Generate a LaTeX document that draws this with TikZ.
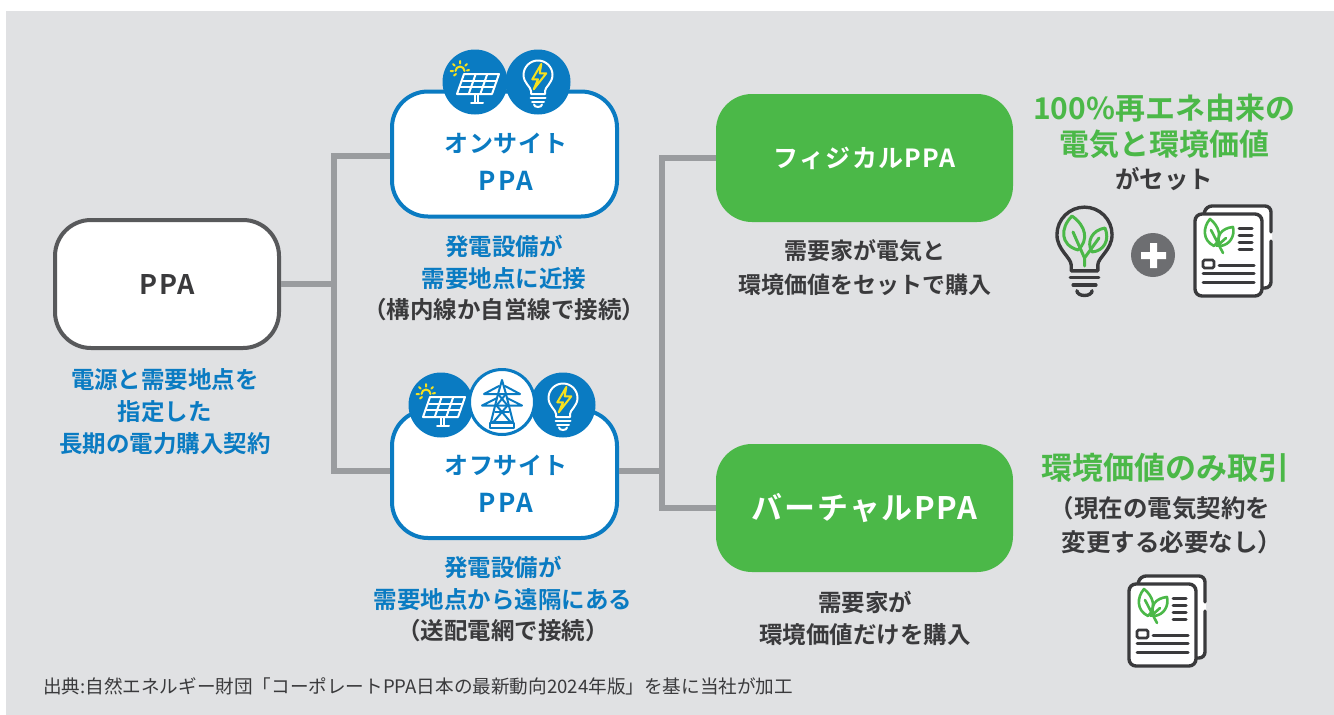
\documentclass[tikz,border=0pt]{standalone}
\usepackage{fontspec}
\setmainfont{Noto Sans CJK JP}[BoldFont={Noto Sans CJK JP Bold}]
\definecolor{bg}{HTML}{E0E1E3}
\definecolor{myblue}{HTML}{0A7BC2}
\definecolor{mygreen}{HTML}{4BB848}
\definecolor{dk}{HTML}{3A3A3C}
\definecolor{boxgray}{HTML}{58595B}
\definecolor{linegray}{HTML}{9A9C9F}
\definecolor{plusgray}{HTML}{6D6E71}
\definecolor{sunyellow}{HTML}{F7E11E}
\newcommand{\fs}[2]{\fontsize{#1}{#2}\selectfont}
\tikzset{
 box/.style={draw,line width=4pt,fill=white,rounded corners=36pt,minimum width=225pt,align=center,inner sep=0pt},
 greenbox/.style={fill=mygreen,rounded corners=36pt,minimum width=297pt,minimum height=128pt,text=white,font=\bfseries,inner sep=0pt},
 conn/.style={linegray,line width=6pt},
 lbl/.style={inner sep=0pt,align=center,text=dk,font=\bfseries\fs{23.5}{32}},
 bluelbl/.style={lbl,text=myblue},
 boxlbl/.style={inner sep=0pt,text=myblue,font=\bfseries\addfontfeature{LetterSpace=4}\fs{24}{30}},
 boxppa/.style={inner sep=0pt,text=myblue,font=\bfseries\addfontfeature{LetterSpace=9}\fs{26}{30}},
 greenlbl/.style={inner sep=0pt,align=center,text=mygreen,font=\bfseries\fs{30}{36}},
 iconline/.style={line width=2pt,line cap=round,line join=round},
}
\newcommand{\solaricon}[2]{%
 \begin{scope}[shift={(#1,#2)}]
  \fill[myblue] (0,0) circle (32.5);
  \draw[white,iconline] (-11,-8) -- (24,-8) -- (17,12) -- (-18,12) -- cycle;
  \draw[white,iconline] (-12.2,-1.3) -- (21.7,-1.3) (-14.5,5.3) -- (19.3,5.3);
  \draw[white,iconline] (0.7,-8) -- (-6.3,12) (12.3,-8) -- (5.3,12);
  \draw[white,iconline] (0,12) -- (0,20) (3.4,12) -- (3.4,20) (-4,20.5) -- (8,20.5);
  \draw[sunyellow,iconline] (-19.5,-11) arc (180:360:4.5);
  \draw[sunyellow,iconline] (-15,-21) -- (-15,-18.5) (-22,-18) -- (-20.3,-16.3) (-8,-18) -- (-9.7,-16.3)
    (-24.5,-11) -- (-22,-11) (-6,-12) -- (-8,-11.5) (-21,-6.5) -- (-19,-8);
 \end{scope}}
\newcommand{\bulbshape}[2]{%
  \draw[#1,line width=#2,line cap=round,line join=round] (-7,12) -- (-7,9) .. controls (-7,5) and (-14.5,1) .. (-14.5,-7)
     arc (180:360:14.5) .. controls (14.5,1) and (7,5) .. (7,9) -- (7,12) -- cycle;
  \draw[#1,line width=#2,line cap=round] (-7.5,15.5) -- (7.5,15.5) (-6,19.5) -- (6,19.5);
  \draw[#1,line width=#2,line cap=round] (-4,22.5) arc (180:0:4 and 2.5);}
\newcommand{\bulbicon}[2]{%
 \begin{scope}[shift={(#1,#2)}]
  \fill[myblue] (0,0) circle (32.5);
  \bulbshape{white}{2pt}
  \draw[sunyellow,line width=2pt,line join=round] (3.3,-18) -- (-5.7,-2.7) -- (0,-2.7) -- (-4.3,7.3) -- (8.3,-8.7) -- (1.7,-8.7) -- cycle;
 \end{scope}}
\newcommand{\towericon}[2]{%
 \begin{scope}[shift={(#1,#2)}]
  \fill[white] (0,0) circle (32.5);
  \draw[myblue,line width=3pt] (0,0) circle (32.5);
  \draw[myblue,iconline] (0,-22) -- (-4,-8) -- (-11,20) -- (11,20) -- (4,-8) -- cycle;
  \draw[myblue,iconline] (-3,-16) -- (-18,-8) -- (18,-8) -- (3,-16);
  \draw[myblue,iconline] (-5,-4) -- (-20,3.5) -- (20,3.5) -- (5,-4);
  \draw[myblue,iconline] (-4,-8) -- (5.5,3.5) -- (-8.5,20) (4,-8) -- (-5.5,3.5) -- (8.5,20);
  \draw[myblue,iconline] (-7,9.5) -- (7,9.5);
  \draw[myblue,iconline] (-12,21) rectangle (12,26);
 \end{scope}}
\newcommand{\docicon}[2]{%
 \begin{scope}[shift={(#1,#2)}]
  \fill[white,rounded corners=6pt] (1205,205) rectangle (1272,288);
  \draw[dk,line width=3.4pt,rounded corners=6pt,line cap=round] (1271,232) -- (1271,206) -- (1206,206) -- (1204,214);
  \draw[dk,line width=3.4pt,rounded corners=6pt,line cap=round] (1271,241) -- (1271,288) -- (1258,288);
  \draw[dk,fill=white,line width=3.4pt,rounded corners=7pt] (1195,214) rectangle (1262,296);
  \draw[mygreen,line width=2.6pt,line join=round] (1210,219) .. controls (1203,227) and (1202,240) .. (1214,246) .. controls (1223,238) and (1219,226) .. (1210,219) -- cycle;
  \draw[mygreen,line width=2.6pt,line join=round] (1233,227) .. controls (1222,228) and (1215,236) .. (1220,246) .. controls (1230,245) and (1235,236) .. (1233,227) -- cycle;
  \draw[mygreen,line width=2.6pt,line cap=round] (1211,230) -- (1223,253) (1217,246) -- (1226,238);
  \draw[dk,line width=3pt,line cap=round] (1239,228) -- (1252,228) (1239,235) -- (1252,235) (1239,242) -- (1252,242) (1239,249) -- (1252,249)
     (1219,265) -- (1254,265) (1203,273) -- (1254,273) (1203,282) -- (1254,282);
  \draw[dk,line width=2.6pt,rounded corners=1.5pt] (1203,260) rectangle (1214,268);
 \end{scope}}
\begin{document}
\begin{tikzpicture}[x=1pt,y=-1pt]
\useasboundingbox (0,0) rectangle (1334,715);
\fill[bg] (6,11) rectangle (1334,715);
% boxes
\node[box,draw=boxgray,minimum width=224pt,minimum height=128pt,text=dk,font=\bfseries\addfontfeature{LetterSpace=6}\fs{27}{30}] (ppa) at (167,284) {PPA};
\node[box,draw=myblue,minimum height=125pt] (on) at (504.5,154) {};
\node[box,draw=myblue,minimum height=128pt] (off) at (504.5,474) {};
\node[boxlbl] (ont) at (506,144) {オンサイト};
\node[boxppa] (onp) at (506,181) {PPA};
\node[boxlbl] (offt) at (506,466) {オフサイト};
\node[boxppa] (offp) at (506,503) {PPA};
\node[greenbox,font=\bfseries\addfontfeature{LetterSpace=5}\fs{25}{30}] (phys) at (864.5,158) {フィジカルPPA};
\node[greenbox,font=\bfseries\addfontfeature{LetterSpace=5}\fs{31}{34}] (virt) at (864.5,508) {バーチャルPPA};
% connectors
\coordinate (ja) at (334,284);
\coordinate (jb) at (662,471);
\draw[conn] (ppa.east) -- (ja);
\draw[conn,line join=miter] ([yshift=-2pt]on.west) -| (ja) |- ([yshift=3pt]off.west);
\draw[conn] ([yshift=3pt]off.east) -- (jb);
\draw[conn,line join=miter] (phys.west) -| (jb) |- (virt.west);
% icons
\solaricon{475}{82}
\bulbicon{538}{82}
\solaricon{441}{405}
\bulbicon{563}{405}
\towericon{502}{402}
% labels
\node[bluelbl] (t1) at (165,412) {電源と需要地点を\\指定した\\長期の電力購入契約};
\node[bluelbl] (t2) at (504,262) {発電設備が\\需要地点に近接};
\node[lbl] (t3) at (504,310) {（構内線か自営線で接続）};
\node[bluelbl] (t4) at (503,583.5) {発電設備が\\需要地点から遠隔にある};
\node[lbl] (t5) at (503,631) {（送配電網で接続）};
\node[lbl,font=\bfseries\fs{23}{34}] (t6) at (865,268) {需要家が電気と\\環境価値をセットで購入};
\node[lbl] (t7) at (865,618) {需要家が\\環境価値だけを購入};
\node[greenlbl] (t8) at (1164,126) {100\%再エネ由来の\\電気と環境価値};
\node[lbl,font=\bfseries\fs{24.5}{32}] (t9) at (1164,179) {がセット};
\node[greenlbl,font=\bfseries\fs{31}{36}] (t10) at (1165,468) {環境価値のみ取引};
\node[lbl,font=\bfseries\fs{24.5}{32}] (t11) at (1160,508) {（現在の電気契約を};
\node[lbl,font=\bfseries\fs{24.5}{32}] (t11b) at (1172,542) {変更する必要なし）};
\node[inner sep=0pt,anchor=west,text=dk,font=\fs{18.6}{20}] (t12) at (43,686) {出典:自然エネルギー財団「コーポレートPPA日本の最新動向2024年版」を基に当社が加工};
% green bulb
\begin{scope}[shift={(1084.5,248)},scale=1.9]
 \bulbshape{dk}{3.4pt}
\end{scope}
\draw[mygreen,line width=3pt,line join=round] (1072,216) .. controls (1060,228) and (1060,245) .. (1078,250) .. controls (1089,240) and (1086,226) .. (1072,216) -- cycle;
\draw[mygreen,line width=3pt,line join=round] (1105,228) .. controls (1092,230) and (1086,242) .. (1092,252) .. controls (1104,251) and (1110,240) .. (1105,228) -- cycle;
\draw[mygreen,line width=3pt,line cap=round] (1073,232) -- (1084.5,258) -- (1084.5,266) (1084.5,258) -- (1099,238);
% plus
\node[circle,fill=plusgray,minimum size=44pt,inner sep=0pt] (plus) at (1153,255) {};
\fill[white] (1141,252) rectangle (1166,259) (1150,243) rectangle (1157,268);
% documents
\docicon{0}{0}
\docicon{-66}{370}
\end{tikzpicture}
\end{document}
